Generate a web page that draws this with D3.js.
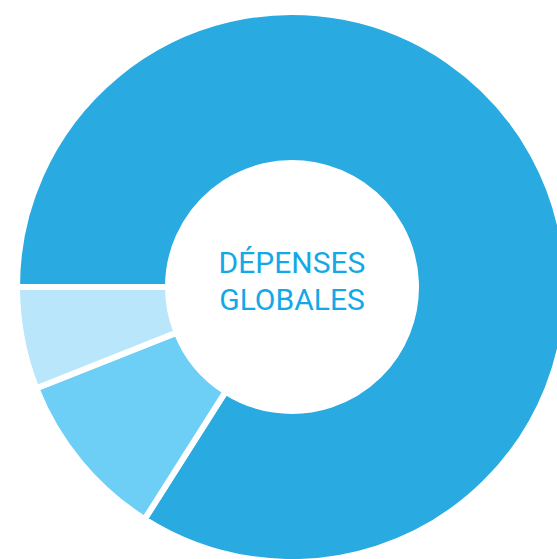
<!DOCTYPE html>
<html>
<head>
<meta charset="utf-8">
<script src="https://cdn.jsdelivr.net/npm/d3@7"></script>
<style>
  html, body { margin: 0; padding: 0; background: #ffffff; }
  svg { display: block; }
</style>
</head>
<body>
<svg id="chart" width="557" height="559"></svg>
<script>
const categories = ["Part principale", "Part secondaire", "Part mineure"];
const values = [84, 10, 6];
const colors = ["#29aae1", "#6dcff6", "#bae6fb"];
const centerLines = ["DÉPENSES", "GLOBALES"];

const svg = d3.select("#chart");
const cx = 292, cy = 287, outerR = 275, innerR = 124;

const data = categories.map((c, i) => ({ category: c, value: values[i], color: colors[i] }));

const pie = d3.pie()
  .sort(null)
  .value(d => d.value)
  .startAngle(-Math.PI / 2)
  .endAngle(3 * Math.PI / 2);

const arc = d3.arc().innerRadius(innerR).outerRadius(outerR);

const g = svg.append("g").attr("transform", `translate(${cx},${cy})`);

g.selectAll("path")
  .data(pie(data))
  .join("path")
  .attr("d", arc)
  .attr("fill", d => d.data.color)
  .attr("stroke", "#ffffff")
  .attr("stroke-width", 6)
  .attr("stroke-linejoin", "miter");

g.selectAll("text.center")
  .data(centerLines)
  .join("text")
  .attr("class", "center")
  .attr("x", 0)
  .attr("y", (d, i) => -14 + i * 37)
  .attr("text-anchor", "middle")
  .attr("font-family", "Roboto, 'Liberation Sans', sans-serif")
  .attr("font-size", 30)
  .attr("fill", "#12a9e6")
  .text(d => d);
</script>
</body>
</html>
